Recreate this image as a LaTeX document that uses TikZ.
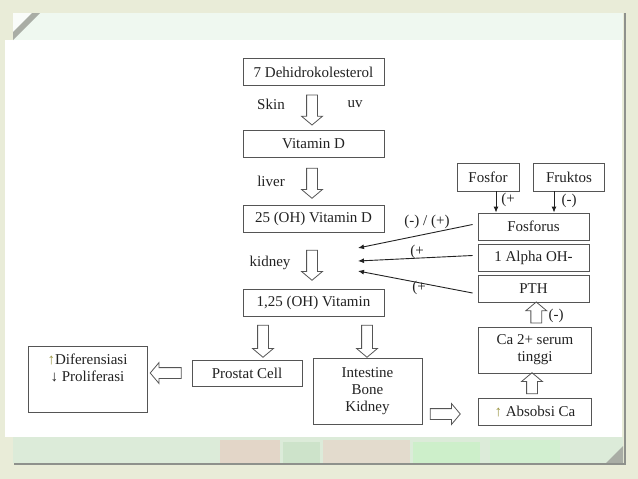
\documentclass[tikz,border=0pt]{standalone}
\usepackage{fontspec}
\setmainfont{Liberation Serif}
\usetikzlibrary{shapes.arrows,arrows.meta,calc}
\definecolor{bgbeige}{HTML}{E9ECD8}
\definecolor{mintlight}{HTML}{EFF8F0}
\definecolor{mintdeco}{HTML}{DCEBD9}
\definecolor{foldgray}{HTML}{A9ADA5}
\definecolor{shadowgray}{HTML}{8E918C}
\definecolor{boxgray}{HTML}{555555}
\definecolor{txt}{HTML}{222222}
\definecolor{olive}{HTML}{9A9440}
\begin{document}
\begin{tikzpicture}[x=1pt,y=-1pt,
  font=\fontsize{15}{17}\selectfont,
  box/.style={draw=boxgray, line width=0.9pt, text=txt, inner sep=0pt, minimum height=27pt, align=center},
  lbl/.style={text=txt, inner sep=0pt},
  harrow/.style={draw=boxgray, line width=0.8pt, single arrow, single arrow head extend=5pt,
    minimum width=0pt, inner xsep=0pt, inner ysep=5pt, single arrow tip angle=100, minimum height=30pt},
  thinarr/.style={draw=txt, line width=0.9pt, -{Latex[length=6pt,width=5pt]}}]
\useasboundingbox (0,0) rectangle (638,479);
% slide background
\fill[bgbeige] (0,0) rectangle (638,479);
\fill[mintlight] (13,13) rectangle (623,40);
\fill[white] (5,40) rectangle (622,437);
\fill[mintdeco] (13,437) rectangle (623,463);
\fill[white!60!mintlight] (13,13) -- (32,13) -- (13,32) -- cycle;
\fill[foldgray] (32,13) -- (40,13) -- (13,40) -- (13,32) -- cycle;
\begin{scope}[opacity=0.22]
  \fill[red!45] (220,440) rectangle (280,463);
  \fill[green!45!black!40] (283,442) rectangle (320,463);
  \fill[red!35] (323,440) rectangle (410,463);
  \fill[green!40] (413,442) rectangle (480,463);
  \fill[green!30] (490,440) rectangle (560,463);
\end{scope}
\fill[foldgray] (606,463) -- (623,446) -- (623,463) -- cycle;
\draw[shadowgray, line width=1.6pt] (625,13) -- (625,464) -- (14,464);

% main column
\node[box, minimum width=141pt] (dehidro) at (313.5,72) {7 Dehidrokolesterol};
\node[box, minimum width=141pt] (vitd) at (313.5,143.5) {Vitamin D};
\node[box, minimum width=141pt] (oh25) at (313.5,218.5) {25 (OH) Vitamin D};
\node[box, minimum width=141pt] (oh125) at (313.5,302.5) {1,25 (OH) Vitamin};

\coordinate (ax) at (312,0);
\node[harrow, rotate=-90] (a1) at (ax |- {$(dehidro.south)!0.5!(vitd.north)$}) {};
\node[harrow, rotate=-90] (a2) at (ax |- {$(vitd.south)!0.5!(oh25.north)$}) {};
\node[harrow, rotate=-90] (a3) at (312,263) {};

\node[lbl] (skin) at (271,104) {Skin};
\node[lbl] (uv) at (355,104) {uv};
\node[lbl] (liver) at (271,181) {liver};
\node[lbl] (kidney) at (270,263) {kidney};

% lower row
\node[box, minimum width=110pt, minimum height=26pt] (prostat) at (247,373) {Prostat Cell};
\node[box, minimum width=109pt, minimum height=66pt] (organs) at (367.5,391.5) {Intestine\\Bone\\Kidney};
\node[box, minimum width=119pt, minimum height=66pt] (dif) at (87.5,379)
  {{\color{olive}↑}Diferensiasi\\↓ Proliferasi\\\strut};

\node[harrow, rotate=-90, minimum height=32pt] (a4) at (263,339) {};
\node[harrow, rotate=-90, minimum height=32pt] (a5) at (367,339) {};
\node[harrow, rotate=180, minimum height=31pt] (a6) at (168,373) {};
\node[harrow, minimum height=30pt] (a7) at (443,414) {};

% right column
\node[box, minimum width=113pt] (absobsi) at (535,411.5) {{\color{olive}↑} Absobsi Ca};
\node[box, minimum width=113pt, minimum height=46pt] (ca) at (535,350) {Ca 2+ serum\\tinggi};
\node[box, minimum width=111pt, minimum height=27pt] (pth) at (533.5,289) {PTH};
\node[box, minimum width=111pt, minimum height=27pt] (alpha) at (533.5,257.5) {1 Alpha OH-};
\node[box, minimum width=111pt, minimum height=27pt] (fosforus) at (533.5,226.5) {Fosforus};
\node[box, minimum width=62pt, minimum height=28pt] (fosfor) at (488,177) {Fosfor};
\node[box, minimum width=71pt, minimum height=28pt] (fruktos) at (569,177) {Fruktos};

\node[harrow, rotate=90, minimum height=21pt] (a8) at ($(absobsi.north)!0.5!(ca.south)+(-3,0)$) {};
\node[harrow, rotate=90, minimum height=21pt] (a9) at ($(ca.north)!0.5!(pth.south)+(2,0)$) {};
\node[lbl] (m1) at (556,316) {(-)};

\coordinate (fa) at (496,0);
\coordinate (fb) at (554,0);
\draw[thinarr] (fa |- fosfor.south) -- (fa |- fosforus.north);
\draw[thinarr] (fb |- fruktos.south) -- (fb |- fosforus.north);
\node[lbl] (p1) at (508,200) {(+};
\node[lbl] (m2) at (569,201) {(-)};

% feedback arrows to kidney step
\coordinate (k1) at (358,248);
\coordinate (k2) at (358,261);
\coordinate (k3) at (358,271);
\draw[thinarr] ([xshift=-5pt,yshift=2pt]fosforus.west) -- (k1);
\draw[thinarr] ([xshift=-5pt,yshift=2pt]alpha.west) -- (k2);
\draw[thinarr] ([xshift=-5pt,yshift=-4pt]pth.west) -- (k3);
\node[lbl] (l1) at (427,222) {(-) / (+)};
\node[lbl] (l2) at (417,252) {(+};
\node[lbl] (l3) at (419,288) {(+};
\end{tikzpicture}
\end{document}
